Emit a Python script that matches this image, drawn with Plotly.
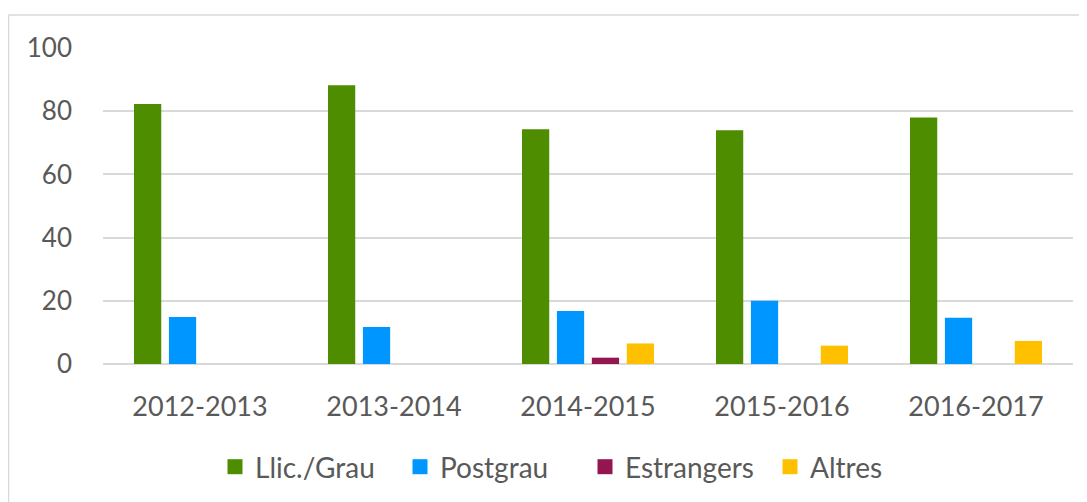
import plotly.graph_objects as go

# dades llegides del gràfic
cursos = ['2012-2013', '2013-2014', '2014-2015', '2015-2016', '2016-2017']
llic_grau = [82.3, 88.2, 74.3, 74.0, 78.0]
postgrau = [14.9, 11.7, 16.8, 20.0, 14.6]
estrangers = [None, None, 2.0, None, None]
altres = [None, None, 6.5, 5.8, 7.3]

series = [
    ('Llic./Grau', llic_grau, '#4E8C00'),
    ('Postgrau', postgrau, '#0096FF'),
    ('Estrangers', estrangers, '#941651'),
    ('Altres', altres, '#FFC000'),
]

TXT = '#595959'
GRID = '#D9D9D9'

# la pàgina posa 8px de marge al body: tot es desplaça
L, T, PW, PH = 95, 40, 970, 316

fig = go.Figure()
for nom, vals, color in series:
    fig.add_trace(go.Bar(
        x=cursos, y=vals, name=nom,
        marker_color=color, marker_line_width=0,
        showlegend=False,
    ))
    # entrada de llegenda amb quadrat més gran
    fig.add_trace(go.Scatter(
        x=[cursos[0]], y=[None], name=nom, mode='markers',
        marker=dict(symbol='square', size=15, color=color),
        showlegend=True,
    ))

# marc exterior gris
fig.add_shape(type='rect', xref='paper', yref='paper',
              x0=(0.5 - L) / PW, x1=(1090 - L) / PW,
              y0=(T + PH - 520) / PH, y1=(T + PH - 7) / PH,
              line=dict(color=GRID, width=1.5), fillcolor='rgba(0,0,0,0)',
              layer='below')

fig.update_layout(
    width=1079, height=494,
    margin=dict(l=L, r=14, t=T, b=494 - T - PH, autoexpand=False),
    paper_bgcolor='white', plot_bgcolor='white',
    font=dict(family='Lato, Open Sans, sans-serif', size=26, color=TXT),
    barmode='group', bargap=0.28, bargroupgap=0.22,
    showlegend=True,
    legend=dict(orientation='h', x=(215 - L - 8) / PW, xanchor='left',
                y=(T + PH - 459) / PH, yanchor='middle',
                font=dict(size=28, color=TXT),
                entrywidth=140, entrywidthmode='pixels',
                traceorder='normal'),
)
fig.update_yaxes(range=[0, 100], tickvals=[0, 20, 40, 60, 80, 100],
                 showgrid=True, gridcolor=GRID, gridwidth=1.5,
                 zeroline=True, zerolinecolor=GRID, zerolinewidth=1.5,
                 showline=False, ticks='', ticklabelstandoff=30,
                 tickfont=dict(size=26, color=TXT))
fig.update_xaxes(showgrid=False, showline=False, ticks='',
                 ticklabelstandoff=24, tickfont=dict(size=27, color=TXT))

fig.write_html('out.html')
